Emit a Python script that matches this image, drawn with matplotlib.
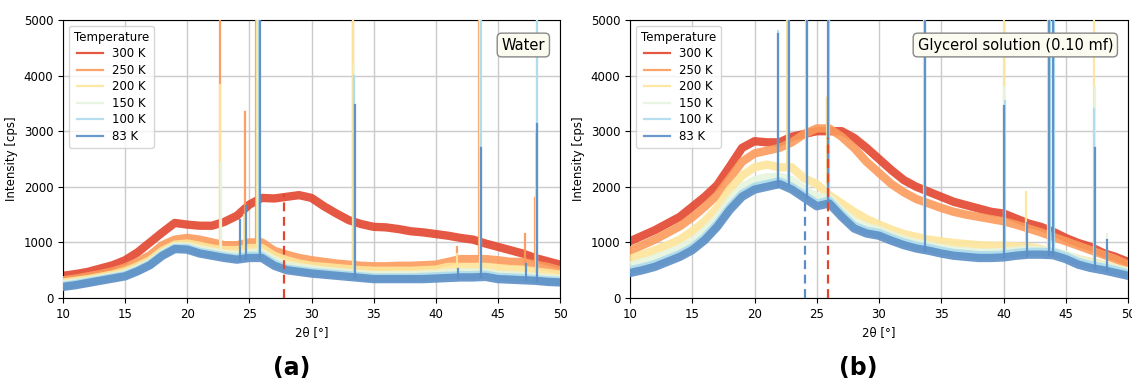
import numpy as np
import matplotlib
matplotlib.use('Agg')
import matplotlib.pyplot as plt

# 2theta grid (deg) shared by the smoothed curves
two_theta = list(range(10, 51))

temps = ['300 K', '250 K', '200 K', '150 K', '100 K', '83 K']
colors = ['#e2462f', '#fb9a5b', '#fee59a', '#e6f4de', '#addcee', '#5b8ec6']

# ---- (a) Water : background level of each scan (cps), read every 1 deg
water_300 = [400, 430, 470, 530, 590, 680, 820, 1000, 1180, 1350, 1320, 1300, 1300, 1370, 1480, 1680,
             1800, 1790, 1820, 1850, 1800, 1650, 1520, 1400, 1330, 1280, 1270, 1240, 1200, 1180, 1150,
             1120, 1080, 1050, 980, 920, 860, 800, 720, 660, 600]
water_250 = [320, 350, 390, 430, 480, 550, 650, 770, 950, 1050, 1080, 1050, 1000, 950, 950, 1000,
             1000, 850, 780, 720, 680, 650, 620, 600, 580, 570, 570, 580, 580, 590, 600,
             650, 700, 700, 700, 680, 650, 650, 600, 560, 500]
water_200 = [280, 310, 340, 380, 420, 480, 570, 680, 850, 960, 980, 940, 890, 860, 860, 900,
             900, 760, 680, 620, 580, 560, 540, 520, 500, 490, 490, 490, 490, 500, 510,
             560, 560, 560, 560, 540, 520, 510, 480, 450, 420]
water_150 = [250, 280, 310, 350, 390, 440, 530, 640, 810, 930, 930, 870, 830, 790, 770, 810,
             810, 680, 590, 550, 520, 490, 470, 450, 430, 410, 410, 410, 410, 420, 430,
             450, 460, 460, 460, 420, 410, 400, 380, 360, 350]
water_100 = [220, 250, 290, 330, 370, 410, 500, 610, 780, 900, 900, 830, 790, 750, 720, 760,
             760, 620, 530, 500, 470, 450, 430, 410, 390, 370, 370, 370, 370, 380, 390,
             400, 410, 410, 420, 380, 370, 360, 340, 320, 310]
water_83 = [200, 230, 270, 310, 350, 390, 480, 590, 760, 880, 870, 800, 760, 720, 690, 720,
            720, 580, 500, 470, 440, 420, 400, 380, 360, 340, 340, 340, 340, 340, 350,
            360, 370, 370, 380, 340, 330, 320, 310, 290, 280]

# sharp reflections: position (deg), foot (cps), top (cps)
water_peaks = {
    '300 K': [],
    '250 K': [(22.62, 950, 5000), (24.62, 950, 3350), (25.55, 1000, 5000), (33.32, 600, 5000),
              (41.7, 650, 920), (43.5, 700, 5000), (47.15, 650, 1150), (47.98, 620, 1800)],
    '200 K': [(22.66, 870, 3830), (24.55, 860, 1500), (25.62, 900, 5000), (33.36, 520, 5000),
              (41.75, 560, 800), (43.53, 560, 5000), (48.1, 480, 3000)],
    '150 K': [(22.68, 790, 2430), (25.7, 810, 5000), (33.42, 450, 4200), (43.6, 460, 5000),
              (48.12, 380, 5000)],
    '100 K': [(25.78, 760, 5000), (33.46, 410, 4000), (43.65, 410, 5000), (48.15, 340, 5000)],
    '83 K': [(24.25, 690, 1400), (24.75, 700, 1650), (25.88, 720, 5000), (33.53, 380, 3470),
             (41.8, 360, 520), (43.62, 370, 2700), (47.3, 320, 620), (48.18, 310, 3130)],
}

# ---- (b) Glycerol solution (0.10 mf)
gly_300 = [1020, 1120, 1220, 1340, 1460, 1640, 1820, 2030, 2360, 2700, 2820, 2800, 2800, 2900, 2950,
           3000, 3000, 3000, 2880, 2700, 2500, 2300, 2120, 2000, 1910, 1820, 1730, 1670, 1610, 1550,
           1520, 1430, 1340, 1280, 1190, 1080, 990, 920, 810, 740, 650]
gly_250 = [850, 950, 1050, 1170, 1290, 1450, 1640, 1850, 2150, 2450, 2600, 2650, 2700, 2800, 2950,
           3050, 3050, 2900, 2700, 2450, 2250, 2050, 1900, 1780, 1700, 1620, 1550, 1500, 1460, 1420,
           1380, 1320, 1250, 1180, 1100, 1020, 940, 860, 780, 700, 600]
gly_200 = [700, 780, 860, 950, 1050, 1200, 1380, 1620, 1950, 2200, 2350, 2400, 2350, 2350, 2150,
           2050, 1850, 1700, 1550, 1420, 1320, 1230, 1150, 1100, 1050, 1020, 990, 970, 950, 940,
           940, 930, 920, 880, 820, 760, 700, 650, 600, 540, 480]
gly_150 = [580, 640, 710, 800, 890, 1020, 1200, 1440, 1750, 1990, 2120, 2170, 2180, 2120, 1950,
           1820, 1800, 1560, 1380, 1280, 1220, 1130, 1050, 990, 950, 900, 860, 840, 820, 820,
           830, 850, 870, 860, 840, 780, 690, 630, 580, 530, 470]
gly_100 = [500, 550, 610, 700, 790, 910, 1090, 1330, 1630, 1870, 2000, 2050, 2100, 2000, 1850,
           1700, 1750, 1510, 1300, 1210, 1170, 1080, 1000, 940, 900, 850, 810, 790, 770, 770,
           780, 810, 830, 830, 820, 750, 650, 590, 550, 500, 440]
gly_83 = [450, 500, 560, 650, 740, 860, 1040, 1280, 1580, 1820, 1950, 2000, 2050, 1950, 1800,
          1650, 1700, 1460, 1250, 1160, 1120, 1030, 950, 890, 850, 800, 760, 740, 720, 720,
          730, 760, 780, 780, 770, 700, 600, 540, 500, 450, 400]

gly_peaks = {
    '300 K': [],
    '250 K': [(25.82, 3050, 3600)],
    '200 K': [(22.65, 2350, 5000), (24.15, 2150, 5000), (25.8, 2050, 3600), (33.6, 1100, 5000),
              (40.0, 940, 5000), (41.8, 930, 1900), (43.6, 880, 5000), (47.3, 650, 5000)],
    '150 K': [(40.05, 830, 3800), (47.32, 630, 3800), (48.3, 580, 1150)],
    '100 K': [(21.9, 2050, 4800), (22.7, 2100, 5000), (24.25, 1850, 5000), (26.0, 1750, 5000),
              (33.7, 900, 5000), (40.1, 780, 3550), (43.7, 830, 5000), (44.02, 820, 5000),
              (47.3, 590, 3400)],
    '83 K': [(21.92, 2000, 4750), (22.78, 2050, 5000), (24.22, 1800, 5000), (25.92, 1700, 5000),
             (33.68, 850, 5000), (40.08, 730, 3450), (41.9, 760, 1350), (43.66, 780, 5000),
             (44.0, 770, 5000), (47.36, 540, 2700), (48.3, 500, 1050)],
}

# dashed markers: position, top, colour index
water_marks = [(27.8, 1870, 0)]
gly_marks = [(24.05, 1760, 5), (25.88, 2880, 0)]

water = [water_300, water_250, water_200, water_150, water_100, water_83]
gly = [gly_300, gly_250, gly_200, gly_150, gly_100, gly_83]

plt.rcParams['font.family'] = ['DejaVu Sans']
fig = plt.figure(figsize=(11.32, 3.83), dpi=100)
ax1 = fig.add_axes([63 / 1132, 85 / 383, 497 / 1132, 278 / 383])
ax2 = fig.add_axes([630 / 1132, 85 / 383, 498 / 1132, 278 / 383])


def draw(ax, curves, peaks, marks, label):
    ax.grid(True, color='#cbcbcb', lw=1)
    ax.set_axisbelow(True)
    for i, t in enumerate(temps):
        ax.plot(two_theta, curves[i], color=colors[i], lw=6, alpha=0.9,
                solid_joinstyle='round', label=t, zorder=2 + i)
        for pos, foot, top in peaks[t]:
            ax.plot([pos, pos], [foot, top], color=colors[i], lw=1.6, alpha=0.95, zorder=2 + i)
    for pos, top, ci in marks:
        ax.plot([pos, pos], [0, top], color=colors[ci], lw=1.6, ls=(0, (4, 2.5)), zorder=10)
    ax.set_xlim(10, 50)
    ax.set_ylim(0, 5000)
    ax.set_xticks(range(10, 51, 5))
    ax.set_yticks(range(0, 5001, 1000))
    ax.tick_params(labelsize=8.5)
    ax.set_xlabel('2θ [°]', fontsize=8.5)
    ax.set_ylabel('Intensity [cps]', fontsize=8.5)
    leg = ax.legend(title='Temperature', loc='upper left', fontsize=8.5, title_fontsize=8.5,
                    handlelength=2.2, borderpad=0.4, labelspacing=0.3)
    for ln in leg.get_lines():
        ln.set_linewidth(1.6)
    ax.text(0.97, 0.91, label, transform=ax.transAxes, ha='right', va='center', fontsize=10.5,
            bbox=dict(boxstyle='round,pad=0.3', fc='#fbfbef', ec='#888888'), zorder=20)


draw(ax1, water, water_peaks, water_marks, 'Water')
draw(ax2, gly, gly_peaks, gly_marks, 'Glycerol solution (0.10 mf)')

fig.text(292 / 1132, 1 - 368 / 383, '(a)', ha='center', va='center', fontsize=17, fontweight='bold')
fig.text(858 / 1132, 1 - 368 / 383, '(b)', ha='center', va='center', fontsize=17, fontweight='bold')

fig.savefig('out.png', dpi=100)
